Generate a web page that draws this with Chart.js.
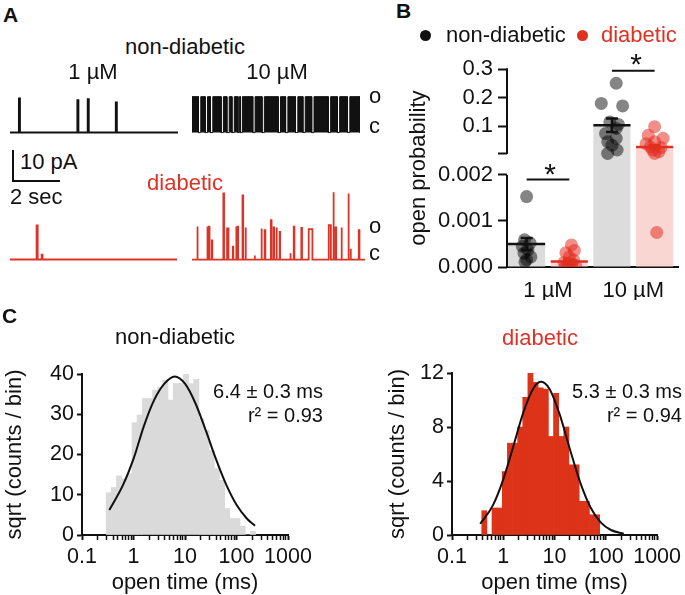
<!DOCTYPE html>
<html>
<head>
<meta charset="utf-8">
<script src="https://cdn.jsdelivr.net/npm/chart.js@4.4.1/dist/chart.umd.min.js"></script>
<style>
  body { margin: 0; background: #fff; }
  #fig { position: relative; width: 685px; height: 595px; overflow: hidden;
         font-family: "Liberation Sans", Arial, Helvetica, sans-serif; color: #111; }
  #fig canvas { position: absolute; }
  .t { position: absolute; white-space: nowrap; line-height: 1; font-size: 22px; }
</style>
</head>
<body>
<div id="fig">
  <canvas id="traceND1" width="168" height="77" style="left:10px;top:62px"></canvas>
  <canvas id="traceND10" width="168" height="77" style="left:192px;top:62px"></canvas>
  <canvas id="traceD1" width="167" height="77" style="left:10px;top:189px"></canvas>
  <canvas id="traceD10" width="173" height="77" style="left:192px;top:189px"></canvas>
  <canvas id="openProb" width="305" height="260" style="left:380px;top:40px"></canvas>
  <canvas id="histND" width="345" height="295" style="left:0px;top:300px"></canvas>
  <canvas id="histD" width="340" height="295" style="left:345px;top:300px"></canvas>
  <div style="position:absolute;left:12px;top:150px;width:46px;height:30px;border-left:2px solid #111;border-bottom:2px solid #111"></div>
</div>
<script>
// ---- panel A: single-channel openings, [start s, duration s, amplitude pA]
const eventsND1 = [[0.39, 0.04, 10.6], [2.93, 0.04, 10.1], [3.38, 0.04, 10.4], [4.6, 0.04, 9.4]];
const eventsD1 = [[1.16, 0.04, 10.6], [1.38, 0.03, 1.5]];
const eventsD10 = [
  [0.22, 0.03, 10.3], [0.66, 0.02, 10.3], [0.73, 0.03, 10.3], [0.86, 0.02, 6], [1.36, 0.03, 20.6],
  [1.52, 0.06, 9.7], [1.77, 0.02, 4], [1.91, 0.02, 10.3], [1.97, 0.03, 10.3], [2.19, 0.03, 20],
  [2.31, 0.03, 10], [2.71, 0.02, 1.3], [3.0, 0.03, 9.7], [3.15, 0.03, 9.2], [3.42, 0.03, 12.3],
  [3.54, 0.02, 10], [3.66, 0.02, 10], [3.8, 0.02, 8.6], [4.26, 0.02, 2], [4.41, 0.03, 10.3],
  [4.74, 0.03, 9.9], [5.06, 0.16, 9.5], [5.93, 0.09, 10.7], [6.12, 0.03, 21], [6.22, 0.03, 10],
  [6.47, 0.03, 10], [6.77, 0.03, 20.6], [6.87, 0.02, 3.4], [7.23, 0.03, 9.2]
];
// bursts of rapid openings at 10 uM (non-diabetic), [start s, end s]
const burstsND10 = [
  [0.0, 0.28], [0.38, 0.57], [0.67, 0.8], [0.9, 1.26], [1.36, 1.51], [1.61, 1.73], [1.83, 1.99],
  [2.05, 2.1], [2.18, 2.63], [2.73, 3.03], [3.13, 3.73], [3.83, 4.05], [4.15, 4.48], [4.58, 4.8],
  [4.9, 5.18], [5.28, 5.9], [6.0, 6.29], [6.39, 6.73], [6.83, 7.27]
];
const burstAmpND10 = 11.2;
const traceLengths = { nd1: 7.3, nd10: 7.27, d1: 7.26, d10: 7.5 };

// ---- panel B: open probability
const doseLabels = ['1 µM', '10 µM'];
const meanND = [0.0005, 0.103];
const semND = [0.00013, 0.024];
const meanD = [0.00012, 0.027];
const semD = [0.00004, 0.006];
const pts1ND = [0.00153, 0.00059, 0.00052, 0.00045, 0.00037, 0.0003, 0.00022, 0.00016, 0.00011];
const jit1ND = [0, -0.05, 0.08, -0.1, 0.03, -0.06, 0.1, 0, -0.04];
const pts1D = [0.00048, 0.00036, 0.00031, 0.00022, 0.00015, 0.0001, 0.00007, 0.00005, 0.00003, 0.00002, 0.00001];
const jit1D = [0.05, 0.12, -0.08, 0, 0.1, -0.12, 0.05, -0.05, 0.15, 0, -0.1];
const pts10ND = [0.251, 0.18, 0.171, 0.115, 0.106, 0.092, 0.074, 0.057, 0.045, 0.033, 0.016, 0.004];
const jit10ND = [0.1, -0.25, 0.25, -0.05, 0.15, 0.1, -0.15, 0.1, -0.1, 0, 0.12, -0.1];
const pts10D = [0.098, 0.068, 0.057, 0.045, 0.038, 0.027, 0.025, 0.016, 0.01, 0.004, 0.00075];
const jit10D = [0, -0.15, 0.2, 0, -0.2, -0.1, 0.15, -0.05, 0.1, 0, 0.05];
const yTicksLow = [0, 0.001, 0.002];
const yTicksHigh = [0.1, 0.2, 0.3];
const sigLines = [[0, 1, 0.0019], [2, 3, 0.295]];

// ---- panel C: open time histograms
const binsND = [0.331, 0.417, 0.525, 0.661, 0.832, 1.047, 1.318, 1.660, 2.089, 2.630, 3.311, 4.169, 5.248, 6.607,
  8.318, 10.47, 13.18, 16.60, 20.89, 26.30, 33.11, 41.69, 52.48, 66.07, 83.18, 104.7, 131.8, 166.0, 208.9];
const countsND = [10.5, 11.8, 14.7, 14.0, 15.2, 27.9, 29.8, 33.9, 33.9, 36.0, 36.7, 38.5, 33.5, 37.7,
  37.7, 40.3, 37.6, 38.7, 28.9, 26.0, 21.0, 16.5, 13.6, 6.6, 4.1, 4.1, 2.2, 0, 0.9];
const fitXND = [0.339, 0.631, 1, 1.585, 2.512, 3.981, 6.31, 10, 15.85, 25.12, 39.81, 63.1, 100, 158.5, 229];
const fitYND = [6.2, 12.5, 18.9, 27.0, 33.5, 37.6, 39.4, 37.6, 32.8, 26.1, 18.9, 12.5, 7.5, 4.1, 2.3];
const binsD = [0.427, 0.537, 0.676, 0.851, 1.072, 1.349, 1.698, 2.138, 2.692, 3.388, 4.266, 5.370, 6.761,
  8.511, 10.72, 13.49, 16.98, 21.38, 26.92, 33.88, 42.66, 53.70, 67.61];
const countsD = [1.8, 0, 2.0, 2.0, 4.7, 6.8, 6.8, 8.0, 10.2, 12.1, 11.3, 10.9, 10.8, 7.3, 10.5, 7.3, 8.0,
  5.2, 5.2, 2.5, 2.5, 1.5, 1.5];
const fitXD = [0.355, 0.631, 1, 1.585, 2.512, 3.981, 5.495, 7.943, 12.59, 19.95, 31.62, 50.12, 79.43, 125.9, 223.9];
const fitYD = [0.83, 2.21, 4.12, 6.62, 9.17, 10.94, 11.35, 10.83, 8.93, 6.35, 3.9, 2.06, 0.94, 0.37, 0.09];
const decadeTicks = [0.1, 1, 10, 100, 1000];

const RED = '#dc3327';
const fig = document.getElementById('fig');
Chart.defaults.font.family = '"Liberation Sans", Arial, Helvetica, sans-serif';
Chart.defaults.color = '#111';

function addText(txt, x, y, opts = {}) {
  const el = document.createElement('div');
  el.className = 't';
  el.textContent = txt;
  const ax = opts.align === 'left' ? '0' : opts.align === 'right' ? '-100%' : '-50%';
  el.style.left = x + 'px';
  el.style.top = y + 'px';
  el.style.transform = 'translate(' + ax + ', -50%)';
  if (opts.size) el.style.fontSize = opts.size + 'px';
  if (opts.color) el.style.color = opts.color;
  if (opts.bold) el.style.fontWeight = 'bold';
  fig.appendChild(el);
}

function addDot(x, y, color) {
  const el = document.createElement('div');
  el.style.cssText = 'position:absolute;width:11px;height:11px;border-radius:50%;left:' + (x - 5.5) +
    'px;top:' + (y - 5.5) + 'px;background:' + color;
  fig.appendChild(el);
}

// ---------- panel A traces
function eventTrace(events, end) {
  const pts = [{ x: 0, y: 0 }];
  events.forEach(([t, d, a]) => {
    pts.push({ x: t, y: 0 }, { x: t, y: a }, { x: t + d, y: a }, { x: t + d, y: 0 });
  });
  pts.push({ x: end, y: 0 });
  return pts;
}

function traceChart(id, points, xmax, color, filled, lw) {
  return new Chart(document.getElementById(id), {
    type: 'line',
    data: { datasets: [{ data: points, borderColor: color, backgroundColor: color, borderWidth: lw,
      pointRadius: 0, tension: 0, fill: filled ? 'origin' : false }] },
    options: {
      responsive: false, animation: false, events: [],
      layout: { padding: 0 },
      plugins: { legend: { display: false }, tooltip: { enabled: false } },
      scales: {
        x: { type: 'linear', min: 0, max: xmax, display: false },
        y: { type: 'linear', min: -2, max: 22, display: false }
      }
    }
  });
}

traceChart('traceND1', eventTrace(eventsND1, traceLengths.nd1), traceLengths.nd1, '#111', false, 2);
traceChart('traceND10', eventTrace(burstsND10.map(([s, e]) => [s, e - s, burstAmpND10]), traceLengths.nd10),
  traceLengths.nd10, '#111', true, 1);
traceChart('traceD1', eventTrace(eventsD1, traceLengths.d1), traceLengths.d1, RED, false, 2);
traceChart('traceD10', eventTrace(eventsD10, traceLengths.d10), traceLengths.d10, RED, false, 1.8);

// ---------- panel B: bar chart on a broken y axis
const BREAK = 0.002, BREAK_TOP = 0.00201;
const LOWER_FRAC = 0.4654, UPPER_FRAC = 0.4284;

class BrokenScale extends Chart.LinearScale {
  static id = 'broken';
  static defaults = Chart.LinearScale.defaults;
  getPixelForValue(value) {
    const h = this.bottom - this.top;
    if (value <= BREAK) return this.bottom - (value / BREAK) * LOWER_FRAC * h;
    return this.top + (1 - (value - BREAK) / (this.max - BREAK)) * UPPER_FRAC * h;
  }
  getValueForPixel(pixel) {
    const h = this.bottom - this.top;
    const lowTop = this.bottom - LOWER_FRAC * h;
    if (pixel >= lowTop) return (this.bottom - pixel) / (LOWER_FRAC * h) * BREAK;
    return BREAK + (1 - (pixel - this.top) / (UPPER_FRAC * h)) * (this.max - BREAK);
  }
}
Chart.register(BrokenScale);

const barVals = [meanND[0], meanD[0], meanND[1], meanD[1]];
const barSems = [semND[0], semD[0], semND[1], semD[1]];
const barFill = ['#dcdcdc', '#fad6d2', '#dcdcdc', '#fad6d2'];
const barLine = ['#111', '#e0301e', '#111', '#e0301e'];

const panelBDecor = {
  id: 'panelBDecor',
  afterDatasetsDraw(chart) {
    const { ctx, chartArea, scales: { x, y } } = chart;
    ctx.save();
    ctx.lineWidth = 2;
    ctx.strokeStyle = '#111';
    ctx.beginPath();
    ctx.moveTo(chartArea.left, y.getPixelForValue(0) + 1);
    ctx.lineTo(chartArea.left, y.getPixelForValue(BREAK));
    ctx.moveTo(chartArea.left, y.getPixelForValue(BREAK_TOP));
    ctx.lineTo(chartArea.left, y.getPixelForValue(0.3) - 1);
    ctx.stroke();
    chart.getDatasetMeta(0).data.forEach((bar, i) => {
      const half = bar.width / 2;
      const ym = y.getPixelForValue(barVals[i]);
      const ylo = y.getPixelForValue(barVals[i] - barSems[i]);
      const yhi = y.getPixelForValue(barVals[i] + barSems[i]);
      ctx.strokeStyle = barLine[i];
      ctx.lineWidth = 2.5;
      ctx.beginPath();
      ctx.moveTo(bar.x - half, ym); ctx.lineTo(bar.x + half, ym);
      ctx.moveTo(bar.x, ylo); ctx.lineTo(bar.x, yhi);
      ctx.moveTo(bar.x - 6, yhi); ctx.lineTo(bar.x + 6, yhi);
      ctx.moveTo(bar.x - 6, ylo); ctx.lineTo(bar.x + 6, ylo);
      ctx.stroke();
    });
    ctx.strokeStyle = '#111';
    ctx.lineWidth = 2;
    sigLines.forEach(([a, b, v]) => {
      const yy = y.getPixelForValue(v);
      ctx.beginPath();
      ctx.moveTo(x.getPixelForValue(a), yy);
      ctx.lineTo(x.getPixelForValue(b), yy);
      ctx.stroke();
    });
    ctx.restore();
  }
};

const ndPoints = pts1ND.map((v, i) => ({ x: 0 + jit1ND[i], y: v }))
  .concat(pts10ND.map((v, i) => ({ x: 2 + jit10ND[i], y: v })));
const dPoints = pts1D.map((v, i) => ({ x: 1 + jit1D[i], y: v }))
  .concat(pts10D.map((v, i) => ({ x: 3 + jit10D[i], y: v })));

new Chart(document.getElementById('openProb'), {
  type: 'bar',
  data: {
    datasets: [
      { type: 'bar', data: barVals.map((v, i) => ({ x: i, y: v })), backgroundColor: barFill,
        barPercentage: 0.87, categoryPercentage: 1, order: 3 },
      { type: 'scatter', data: ndPoints, backgroundColor: 'rgba(0,0,0,0.48)', borderWidth: 0,
        pointRadius: 6.5, order: 2 },
      { type: 'scatter', data: dPoints, backgroundColor: 'rgba(228,38,26,0.52)', borderWidth: 0,
        pointRadius: 6.5, order: 1 }
    ]
  },
  options: {
    responsive: false, animation: false, events: [],
    layout: { padding: { left: 26, top: 29.3, right: 2, bottom: 0 } },
    plugins: { legend: { display: false }, tooltip: { enabled: false } },
    scales: {
      x: {
        type: 'linear', min: -0.46, max: 3.56, offset: false,
        afterBuildTicks: s => { s.ticks = [0.5, 2.5].map(v => ({ value: v })); },
        afterFit: s => { s.height = 33; },
        ticks: { autoSkip: false, maxRotation: 0, padding: 3, font: { size: 22 },
          callback: (v, i) => doseLabels[i] },
        grid: { display: false },
        border: { display: true, color: '#111', width: 2 }
      },
      y: {
        type: 'broken', min: 0, max: 0.3,
        afterBuildTicks: s => {
          s.ticks = yTicksLow.concat([BREAK_TOP], yTicksHigh).map(v => ({ value: v }));
        },
        afterFit: s => { s.width = 101; },
        ticks: { autoSkip: false, padding: 5, font: { size: 22 },
          callback: v => yTicksLow.includes(v) ? v.toFixed(3) : yTicksHigh.includes(v) ? v.toFixed(1) : '' },
        grid: { display: true, drawOnChartArea: false, drawTicks: true, tickLength: 9, tickWidth: 2,
          tickColor: '#111' },
        border: { display: false },
        title: { display: true, text: 'open probability', font: { size: 22 }, padding: { top: 0, bottom: 0 } }
      }
    }
  },
  plugins: [panelBDecor]
});

// ---------- panel C: histograms on log time axis
const logTicks = [];
decadeTicks.forEach((d, i) => {
  logTicks.push(d);
  if (i < decadeTicks.length - 1) for (let m = 2; m <= 9; m++) logTicks.push(+(d * m).toPrecision(3));
});

function histChart(id, bins, counts, fitX, fitY, barColor, yMax, yStep, geom) {
  const chart = new Chart(document.getElementById(id), {
    type: 'bar',
    data: {
      datasets: [
        { type: 'line', data: fitX.map((x, i) => ({ x, y: fitY[i] })), borderColor: '#111', borderWidth: 2,
          pointRadius: 0, cubicInterpolationMode: 'monotone', order: 1 },
        { type: 'bar', data: bins.map((x, i) => ({ x, y: counts[i] })), backgroundColor: barColor,
          barPercentage: 1, categoryPercentage: 1, order: 2 }
      ]
    },
    options: {
      responsive: false, animation: false, events: [],
      layout: { padding: geom.padding },
      plugins: { legend: { display: false }, tooltip: { enabled: false } },
      scales: {
        x: {
          type: 'logarithmic', min: 0.1, max: 1000, offset: false,
          afterBuildTicks: s => { s.ticks = logTicks.map(v => ({ value: v, major: decadeTicks.includes(v) })); },
          afterFit: s => { s.height = geom.xh; },
          ticks: { autoSkip: false, maxRotation: 0, padding: 4, font: { size: 21.5 },
            callback: v => decadeTicks.includes(v) ? String(v) : '' },
          grid: { display: true, drawOnChartArea: false, offset: false, tickLength: 5,
            tickWidth: c => (c.tick && c.tick.major ? 2 : 1.5), tickColor: '#111' },
          border: { display: true, color: '#111', width: 2 },
          title: { display: true, text: 'open time (ms)', font: { size: 22, lineHeight: 1 },
            padding: { top: 0, bottom: 1 } }
        },
        y: {
          type: 'linear', min: 0, max: yMax,
          afterFit: s => { s.width = geom.yw; },
          ticks: { stepSize: yStep, padding: 3, font: { size: 21.5 } },
          grid: { display: true, drawOnChartArea: false, tickLength: 5, tickWidth: 2, tickColor: '#111' },
          border: { display: true, color: '#111', width: 2 },
          title: { display: true, text: 'sqrt (counts / bin)', font: { size: 22 }, padding: { top: 0, bottom: 0 } }
        }
      }
    }
  });
  // bar width = pixel spacing of neighbouring bin centres
  const xs = chart.scales.x;
  const n = bins.length;
  chart.data.datasets[1].barThickness =
    (xs.getPixelForValue(bins[n - 1]) - xs.getPixelForValue(bins[0])) / (n - 1);
  chart.update();
  return chart;
}

histChart('histND', binsND, countsND, fitXND, fitYND, '#dadada', 40, 10,
  { padding: { left: 2, top: 74, right: 57, bottom: 0 }, yw: 80, xh: 60 });
histChart('histD', binsD, countsD, fitXD, fitYD, '#dd3319', 12, 4,
  { padding: { left: 40, top: 73, right: 27, bottom: 0 }, yw: 67, xh: 60 });

// ---------- text labels
addText('A', 3, 14, { align: 'left', bold: true, size: 21 });
addText('B', 396, 10, { align: 'left', bold: true, size: 21 });
addText('C', 2, 315, { align: 'left', bold: true, size: 21 });

addText('non-diabetic', 185, 47);
addText('1 µM', 93, 72);
addText('10 µM', 277, 72);
addText('o', 369, 96, { align: 'left' });
addText('c', 369, 126, { align: 'left' });
addText('10 pA', 20, 162, { align: 'left' });
addText('2 sec', 10, 197, { align: 'left' });
addText('diabetic', 185, 183, { color: RED });
addText('o', 369, 226, { align: 'left' });
addText('c', 369, 253, { align: 'left' });

addDot(425, 35, '#111');
addText('non-diabetic', 446, 35, { align: 'left' });
addDot(582, 35, '#e0301e');
addText('diabetic', 601, 35, { align: 'left', color: '#e0301e' });
addText('*', 550, 174, { size: 30 });
addText('*', 636, 64, { size: 30 });

addText('non-diabetic', 175, 337);
addText('6.4 ± 0.3 ms', 323, 391, { align: 'right', size: 20 });
addText('r² = 0.93', 323, 415, { align: 'right', size: 20 });
addText('diabetic', 540, 338, { color: RED });
addText('5.3 ± 0.3 ms', 682, 391, { align: 'right', size: 20 });
addText('r² = 0.94', 682, 415, { align: 'right', size: 20 });
</script>
</body>
</html>
